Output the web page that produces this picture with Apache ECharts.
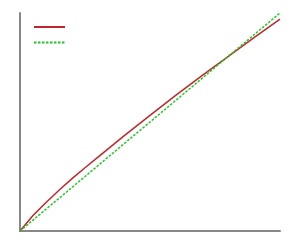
<!DOCTYPE html>
<html>
<head>
<meta charset="utf-8">
<script src="https://cdn.jsdelivr.net/npm/echarts@6/dist/echarts.min.js"></script>
<style>html,body{margin:0;padding:0;background:#fff}#c{width:300px;height:250px}</style>
</head>
<body>
<div id="c"></div>
<script>
var xs = [0, 0.05, 0.1, 0.15, 0.2, 0.25, 0.3, 0.4, 0.5, 0.6, 0.7, 0.8, 0.9, 1.0];
var curveVals = [0, 0.071, 0.131, 0.187, 0.24, 0.29, 0.339, 0.436, 0.53, 0.623, 0.713, 0.80, 0.887, 0.972];
var lineVals = [0, 0.05, 0.1, 0.15, 0.2, 0.25, 0.3, 0.4, 0.5, 0.6, 0.7, 0.8, 0.9, 1.0];
var seriesNames = ['curve', 'line'];

function pairs(a, b) { return a.map(function (v, i) { return [v, b[i]]; }); }

var chart = echarts.init(document.getElementById('c'));
chart.setOption({
  animation: false,
  grid: { left: 20, right: 20, top: 13, bottom: 19 },
  legend: {
    orient: 'vertical', left: 33, top: 20, padding: 0, itemWidth: 31, itemHeight: 14, itemGap: 3,
    formatter: function () { return ''; },
    itemStyle: { opacity: 0 },
    data: seriesNames
  },
  xAxis: {
    type: 'value', min: 0, max: 1,
    axisLine: { lineStyle: { color: '#888', width: 2 } },
    axisTick: { show: false }, axisLabel: { show: false }, splitLine: { show: false }
  },
  yAxis: {
    type: 'value', min: 0, max: 1,
    axisLine: { show: true, lineStyle: { color: '#888', width: 2 } },
    axisTick: { show: false }, axisLabel: { show: false }, splitLine: { show: false }
  },
  series: [
    { name: seriesNames[0], type: 'line', smooth: false, symbol: 'none',
      data: pairs(xs, curveVals), lineStyle: { color: '#c0262b', width: 1.5 }, itemStyle: { color: '#c0262b' } },
    { name: seriesNames[1], type: 'line', symbol: 'none',
      data: pairs(xs, lineVals), lineStyle: { color: '#22c822', width: 1.5, type: [2.5, 1.5] }, itemStyle: { color: '#22c822' } }
  ]
});
</script>
</body>
</html>
